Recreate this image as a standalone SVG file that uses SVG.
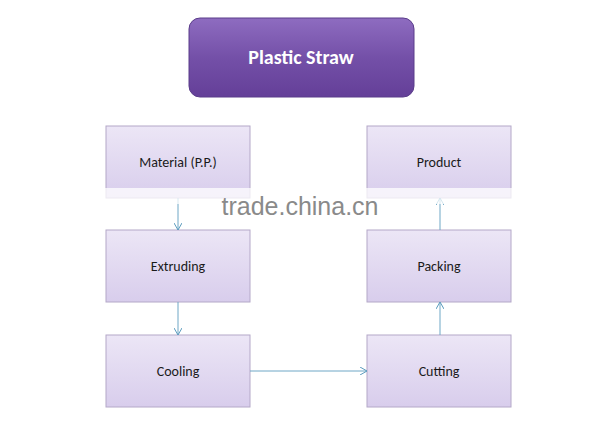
<svg xmlns="http://www.w3.org/2000/svg" width="600" height="428" viewBox="0 0 600 428">
<defs>
<linearGradient id="tg" x1="0" y1="0" x2="0" y2="1"><stop offset="0" stop-color="#8e6cc0"/><stop offset="0.5" stop-color="#7450a8"/><stop offset="1" stop-color="#643f98"/></linearGradient>
<linearGradient id="bg" x1="0" y1="0" x2="0" y2="1"><stop offset="0" stop-color="#ece6f6"/><stop offset="1" stop-color="#d8cdec"/></linearGradient>
<marker id="ar" markerWidth="8" markerHeight="8" refX="7" refY="4" orient="auto" markerUnits="userSpaceOnUse"><path d="M0,0 L7,4 L0,8" fill="none" stroke="#5b9bbd" stroke-width="1"/></marker>
</defs>
<style>
.b{fill:url(#bg);stroke:#b4a8c8;stroke-width:1}
.t{font-family:Calibri,Carlito,"Open Sans","Liberation Sans",sans-serif;font-size:14px;fill:#1a1a1a;text-anchor:middle}
.c{stroke:#6fa7c6;stroke-width:1;fill:none;marker-end:url(#ar)}
</style>
<rect width="600" height="428" fill="#fff"/>
<g id="title"><rect x="189" y="18" width="225" height="79" rx="11" fill="url(#tg)" stroke="#5a3c8a"/><text x="301" y="64" font-family="Calibri,Carlito,'Open Sans','Liberation Sans',sans-serif" font-size="20" font-weight="bold" fill="#fff" text-anchor="middle">Plastic Straw</text></g>
<g id="material"><rect class="b" x="106" y="126" width="144" height="72"/><text class="t" x="178" y="167">Material (P.P.)</text></g>
<g id="extruding"><rect class="b" x="106" y="230" width="144" height="72"/><text class="t" x="178" y="271">Extruding</text></g>
<g id="cooling"><rect class="b" x="106" y="335" width="144" height="72"/><text class="t" x="178" y="376">Cooling</text></g>
<g id="product"><rect class="b" x="367" y="126" width="144" height="72"/><text class="t" x="439" y="167">Product</text></g>
<g id="packing"><rect class="b" x="367" y="230" width="144" height="72"/><text class="t" x="439" y="271">Packing</text></g>
<g id="cutting"><rect class="b" x="367" y="335" width="144" height="72"/><text class="t" x="439" y="376">Cutting</text></g>
<g id="connectors">
<path class="c" d="M178,198 V230"/>
<path class="c" d="M178,302 V335"/>
<path class="c" d="M250,371 H367"/>
<path class="c" d="M440,335 V302"/>
<path class="c" d="M440,230 V198"/>
</g>
<rect x="103" y="188" width="412" height="16" fill="#fff" opacity="0.75"/>
<text x="300" y="215" font-family="'Liberation Sans',Arial,sans-serif" font-size="25" fill="#8a8a8a" text-anchor="middle">trade.china.cn</text>
</svg>
